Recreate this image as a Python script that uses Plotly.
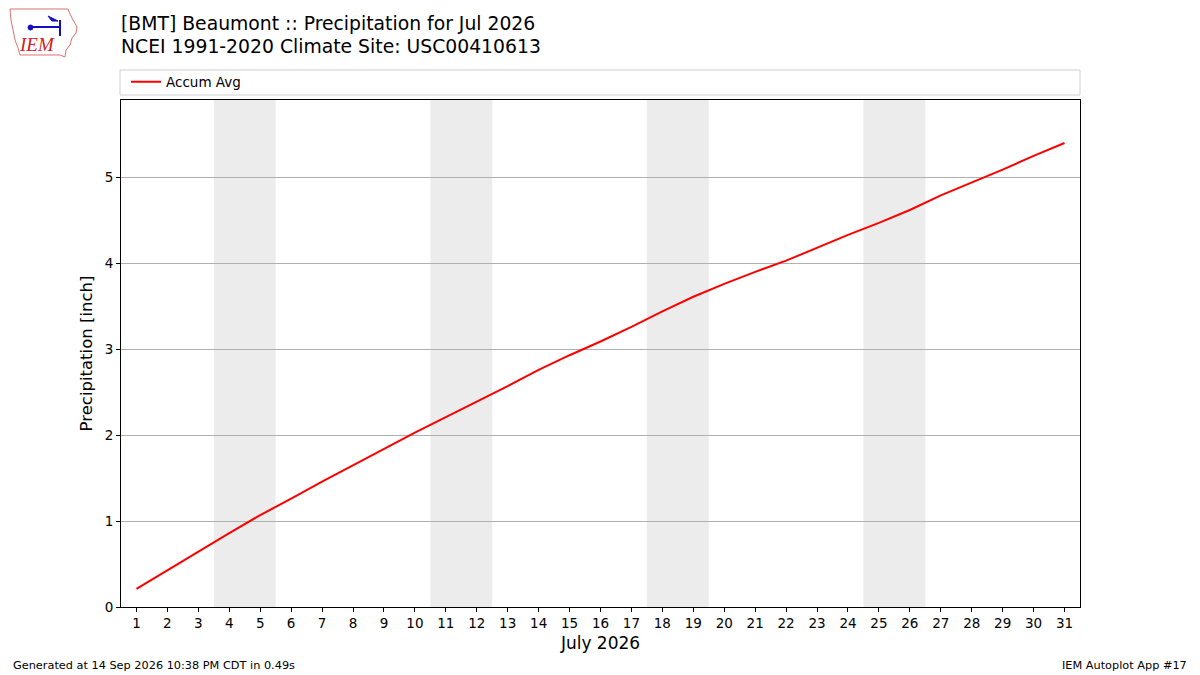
import plotly.graph_objects as go

# Accumulated average precipitation, July (NCEI 1991-2020 normals)
days = list(range(1, 32))
accum_avg = [0.21, 0.43, 0.64, 0.86, 1.07, 1.26, 1.46, 1.65, 1.84, 2.03,
             2.21, 2.39, 2.57, 2.76, 2.93, 3.09, 3.26, 3.44, 3.61, 3.76,
             3.90, 4.03, 4.18, 4.33, 4.47, 4.62, 4.79, 4.94, 5.09, 5.25, 5.40]
weekends = [(4, 5), (11, 12), (18, 19), (25, 26)]
x_title = "July 2026"
y_title = "Precipitation [inch]"
title_lines = ["[BMT] Beaumont :: Precipitation for Jul 2026",
               "NCEI 1991-2020 Climate Site: USC00410613"]
footer_left = "Generated at 14 Sep 2026 10:38 PM CDT in 0.49s"
footer_right = "IEM Autoplot App #17"

W, H = 1200, 675
# plot area on screen (page has an 8px body margin)
X0, X1, Y0, Y1 = 121, 1080, 100, 607
OFF = 8


def px(x, y):
    # screen pixel -> paper coords of the plot area
    return (x - X0) / (X1 - X0), (Y1 - y) / (Y1 - Y0)


fig = go.Figure()

fig.add_trace(go.Scatter(x=days, y=accum_avg, mode="lines", name="Accum Avg",
                         line=dict(color="red", width=2)))

# weekend shading
for a, b in weekends:
    fig.add_vrect(x0=a - 0.5, x1=b + 0.5, fillcolor="#ececec", opacity=1,
                  line_width=0, layer="below")

# legend box spanning the axes width
bx0, by0 = px(120, 95)
bx1, by1 = px(1080, 70)
fig.add_shape(type="rect", xref="paper", yref="paper", x0=bx0, x1=bx1,
              y0=by0, y1=by1, line=dict(color="#d0d0d0", width=1),
              fillcolor="white", layer="below")

# rough IEM logo: state outline + symbol + text
outline = [(10, 9), (68, 9), (70, 14), (73, 20), (77, 27), (76, 33), (72, 38),
           (70, 45), (66, 50), (65, 57), (60, 55), (20, 55), (18, 48),
           (15, 40), (13, 30), (11, 20)]
path = "M " + " L ".join("%.4f,%.4f" % px(x, y) for x, y in outline) + " Z"
fig.add_shape(type="path", xref="paper", yref="paper", path=path,
              line=dict(color="#e07070", width=1), fillcolor="white")
lx0, ly = px(30, 27)
lx1, _ = px(60, 27)
fig.add_shape(type="line", xref="paper", yref="paper", x0=lx0, y0=ly, x1=lx1, y1=ly,
              line=dict(color="#1010c0", width=2))
vx, vy0 = px(60, 20)
_, vy1 = px(60, 36)
fig.add_shape(type="line", xref="paper", yref="paper", x0=vx, y0=vy0, x1=vx, y1=vy1,
              line=dict(color="#1010c0", width=2))
cx0, cy0 = px(28, 25)
cx1, cy1 = px(33, 30)
fig.add_shape(type="circle", xref="paper", yref="paper", x0=cx0, y0=cy0, x1=cx1, y1=cy1,
              fillcolor="#1010c0", line=dict(color="#1010c0", width=1))
fx0, fy0 = px(48, 16)
fx1, fy1 = px(58, 21)
fig.add_shape(type="path", xref="paper", yref="paper",
              path="M %.4f,%.4f L %.4f,%.4f L %.4f,%.4f Z" % (fx0, fy0, fx1, fy1, fx0 + 0.004, fy1),
              fillcolor="#1010c0", line=dict(color="#1010c0", width=1))


def note(text, x, y, anchor, size, family="DejaVu Sans", color="black"):
    ax, ay = px(x, y)
    return dict(text=text, x=ax, y=ay, xref="paper", yref="paper", showarrow=False,
                xanchor=anchor, yanchor="middle",
                font=dict(family=family, size=size, color=color))


annotations = [
    note("<i>IEM</i>", 37, 45, "center", 19, "Liberation Serif", "#d02020"),
    note(title_lines[0], 119, 24, "left", 18.8),
    note(title_lines[1], 119, 47, "left", 18.8),
    note(footer_left, 11, 665, "left", 11.3),
    note(footer_right, 1189, 665, "right", 11.3),
]

fig.update_layout(
    width=W, height=H,
    margin=dict(l=X0 - OFF, r=W + OFF - X1, t=Y0 - OFF, b=H + OFF - Y1),
    paper_bgcolor="white", plot_bgcolor="white",
    font=dict(family="DejaVu Sans", size=13.5, color="black"),
    showlegend=True,
    legend=dict(x=px(126, 82)[0], y=px(126, 82)[1], xanchor="left", yanchor="middle",
                bgcolor="rgba(0,0,0,0)", font=dict(size=13.5)),
    annotations=annotations,
)

fig.update_xaxes(range=[0.5, 31.5], tickmode="array", tickvals=days,
                 ticktext=[str(d) for d in days], ticks="outside", ticklen=4,
                 tickcolor="black", showgrid=False, zeroline=False,
                 showline=True, linecolor="black", linewidth=1, mirror=True,
                 title=dict(text=x_title, font=dict(size=17), standoff=6))
fig.update_yaxes(range=[0, 5.9], tickvals=[0, 1, 2, 3, 4, 5], ticks="outside",
                 ticklen=4, tickcolor="black", showgrid=True, gridcolor="#b0b0b0",
                 zeroline=False, showline=True, linecolor="black", linewidth=1,
                 mirror=True, title=dict(text=y_title, font=dict(size=16.5), standoff=7))

fig.write_html("out.html")
